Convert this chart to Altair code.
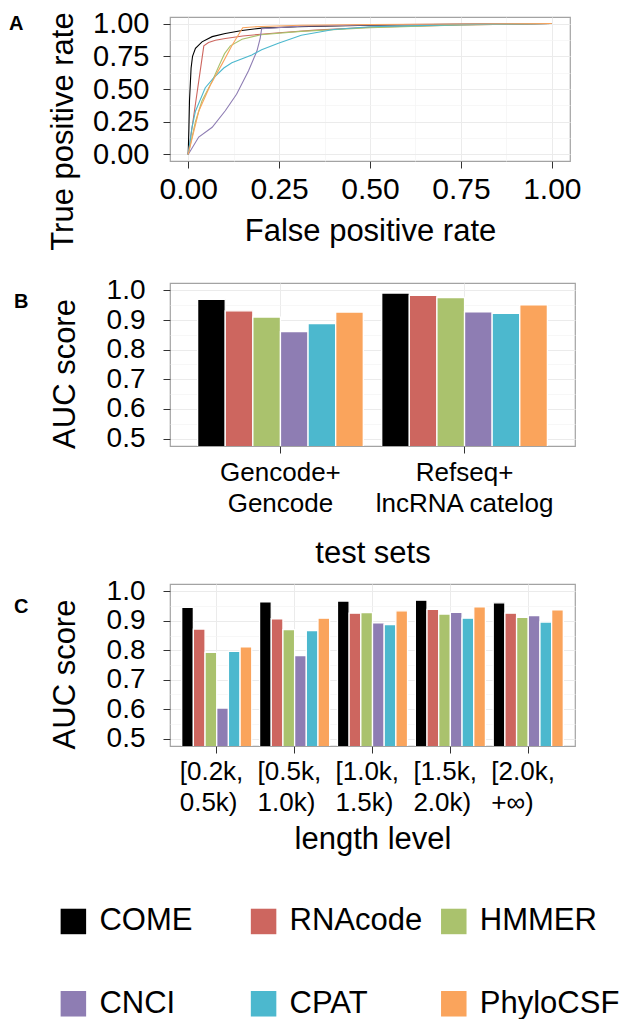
import altair as alt
import pandas as pd

# ---------------- data ----------------
methods = ["COME", "RNAcode", "HMMER", "CNCI", "CPAT", "PhyloCSF"]
colors = ["#000000", "#CD665F", "#AAC26D", "#8E7DB3", "#4CB8CE", "#FAA45C"]
panel_labels = ["A", "B", "C"]

# ROC curves (panel A)
come_fpr = [0, 0.002, 0.0036, 0.008, 0.012, 0.02, 0.038, 0.066, 0.102, 0.148, 0.202, 0.3, 0.5, 0.75, 1.0]
come_tpr = [0, 0.2, 0.41, 0.66, 0.75, 0.81, 0.86, 0.9, 0.924, 0.947, 0.965, 0.976, 0.988, 0.995, 1.0]
rnacode_fpr = [0, 0.043, 0.056, 0.075, 0.102, 0.15, 0.2, 0.25, 0.35, 0.5, 0.75, 1.0]
rnacode_tpr = [0, 0.83, 0.855, 0.872, 0.886, 0.905, 0.918, 0.93, 0.95, 0.972, 0.99, 1.0]
hmmer_fpr = [0, 0.02, 0.038, 0.066, 0.085, 0.1, 0.116, 0.148, 0.2, 0.31, 0.5, 0.75, 1.0]
hmmer_tpr = [0, 0.25, 0.41, 0.56, 0.68, 0.77, 0.83, 0.88, 0.915, 0.94, 0.968, 0.99, 1.0]
cnci_fpr = [0, 0.029, 0.066, 0.102, 0.133, 0.166, 0.189, 0.198, 0.202, 0.31, 0.5, 0.75, 1.0]
cnci_tpr = [0, 0.133, 0.208, 0.334, 0.46, 0.64, 0.79, 0.886, 0.96, 0.98, 0.99, 0.996, 1.0]
cpat_fpr = [0, 0.01, 0.02, 0.047, 0.07, 0.098, 0.12, 0.175, 0.202, 0.248, 0.311, 0.4, 0.5, 0.75, 1.0]
cpat_tpr = [0, 0.2, 0.33, 0.51, 0.585, 0.66, 0.70, 0.76, 0.80, 0.85, 0.91, 0.955, 0.975, 0.992, 1.0]
phylocsf_fpr = [0, 0.029, 0.061, 0.093, 0.12, 0.15, 0.2, 0.31, 0.5, 0.75, 1.0]
phylocsf_tpr = [0, 0.33, 0.53, 0.69, 0.83, 0.968, 0.978, 0.987, 0.993, 0.997, 1.0]

# AUC by test set (panel B)
test_sets = ["Gencode+\nGencode", "Refseq+\nlncRNA catelog"]
auc_gencode = [0.970, 0.931, 0.910, 0.861, 0.888, 0.927]
auc_refseq = [0.991, 0.983, 0.976, 0.928, 0.923, 0.951]

# AUC by length level (panel C)
length_levels = ["[0.2k,\n0.5k)", "[0.5k,\n1.0k)", "[1.0k,\n1.5k)", "[1.5k,\n2.0k)", "[2.0k,\n+\u221e)"]
auc_len_1 = [0.946, 0.872, 0.793, 0.604, 0.796, 0.812]
auc_len_2 = [0.964, 0.907, 0.870, 0.782, 0.867, 0.909]
auc_len_3 = [0.967, 0.926, 0.928, 0.893, 0.887, 0.934]
auc_len_4 = [0.970, 0.939, 0.923, 0.929, 0.909, 0.947]
auc_len_5 = [0.961, 0.926, 0.912, 0.918, 0.896, 0.937]

major_a = [0, 0.25, 0.5, 0.75, 1.0]
minor_a = [0.125, 0.375, 0.625, 0.875]
major_bc = [0.5, 0.6, 0.7, 0.8, 0.9, 1.0]
minor_bc = [0.55, 0.65, 0.75, 0.85, 0.95]

# ---------------- tables ----------------
roc_rows = []
for m, fx, ty in zip(methods,
                     [come_fpr, rnacode_fpr, hmmer_fpr, cnci_fpr, cpat_fpr, phylocsf_fpr],
                     [come_tpr, rnacode_tpr, hmmer_tpr, cnci_tpr, cpat_tpr, phylocsf_tpr]):
    for i, (a, b) in enumerate(zip(fx, ty)):
        roc_rows.append({"method": m, "fpr": a, "tpr": b, "step": i})
roc_df = pd.DataFrame(roc_rows)

b_rows = []
for s, vals in zip(test_sets, [auc_gencode, auc_refseq]):
    for m, v in zip(methods, vals):
        b_rows.append({"set": s, "method": m, "auc": v})
b_df = pd.DataFrame(b_rows)

c_rows = []
for s, vals in zip(length_levels, [auc_len_1, auc_len_2, auc_len_3, auc_len_4, auc_len_5]):
    for m, v in zip(methods, vals):
        c_rows.append({"level": s, "method": m, "auc": v})
c_df = pd.DataFrame(c_rows)

legend_df = pd.DataFrame({"method": methods})

FONT = "Liberation Sans"
GRID = "#EBEBEB"
MINOR = "#F4F4F4"

color_scale = alt.Scale(domain=methods, range=colors)

# ---------------- panel A ----------------
xa = alt.Scale(domain=[-0.05, 1.05], nice=False, zero=False)
ya = alt.Scale(domain=[-0.05, 1.05], nice=False, zero=False)

minor_layer_a = alt.Chart(roc_df).mark_point(opacity=0).encode(
    x=alt.X("fpr:Q", scale=xa, axis=alt.Axis(orient="top", values=minor_a, grid=True, gridColor=MINOR,
                                            gridWidth=0.7, labels=False, ticks=False, domain=False,
                                            title=None, minExtent=0, maxExtent=0)),
    y=alt.Y("tpr:Q", scale=ya, axis=alt.Axis(orient="right", values=minor_a, grid=True, gridColor=MINOR,
                                            gridWidth=0.7, labels=False, ticks=False, domain=False,
                                            title=None, minExtent=0, maxExtent=0)),
)
lines_a = alt.Chart(roc_df).mark_line(strokeWidth=1.1).encode(
    x=alt.X("fpr:Q", scale=xa, axis=alt.Axis(values=major_a, format=".2f", title="False positive rate",
                                            labelFontSize=30, titleFontSize=31, tickSize=7,
                                            labelPadding=6, titlePadding=12, grid=True,
                                            labelOverlap=False)),
    y=alt.Y("tpr:Q", scale=ya, axis=alt.Axis(values=major_a, format=".2f", title="True positive rate",
                                            labelFontSize=29, titleFontSize=31, tickSize=7,
                                            labelPadding=14, titlePadding=13, grid=True,
                                            titleY=114, labelOverlap=False)),
    stroke=alt.Stroke("method:N", scale=alt.Scale(domain=methods, range=colors), legend=None),
    order=alt.Order("step:Q"),
)
letter_a = alt.Chart(pd.DataFrame({"label": [panel_labels[0]]})).mark_text(
    align="left", baseline="top", fontSize=20, fontWeight="bold", font=FONT, color="#000"
).encode(x=alt.value(-161), y=alt.value(-3), text="label:N")

panel_a = alt.layer(minor_layer_a, lines_a, letter_a).resolve_axis(
    x="independent", y="independent").properties(width=400, height=144)

# ---------------- panels B and C ----------------
yb = alt.Scale(domain=[0.475, 1.025], nice=False, zero=False)


def bar_panel(df, field, label_idx, width, height, x_axis, letter_y):
    minor = alt.Chart(df).mark_rule(opacity=0).encode(
        y=alt.Y("auc:Q", scale=yb, axis=alt.Axis(orient="right", values=minor_bc, grid=True,
                                                gridColor=MINOR, gridWidth=0.7, labels=False,
                                                ticks=False, domain=False, title=None,
                                                minExtent=0, maxExtent=0)),
    )
    bars = alt.Chart(df).mark_bar(clip=True, stroke="white", strokeWidth=1.3).encode(
        x=alt.X(f"{field}:N", sort=None,
                scale=alt.Scale(paddingInner=0.1, paddingOuter=0.15), axis=x_axis),
        xOffset=alt.XOffset("method:N", sort=methods,
                            scale=alt.Scale(paddingInner=0, paddingOuter=0)),
        y=alt.Y("auc:Q", scale=yb, axis=alt.Axis(values=major_bc, format=".1f", title="AUC score",
                                                labelFontSize=28, titleFontSize=31, tickSize=7,
                                                labelPadding=18, titlePadding=25, grid=True,
                                                titleY=height / 2 + 9, labelOverlap=False)),
        color=alt.Color("method:N", scale=color_scale, legend=None, sort=methods),
    )
    letter = alt.Chart(pd.DataFrame({"label": [panel_labels[label_idx]]})).mark_text(
        align="left", baseline="top", fontSize=20, fontWeight="bold", font=FONT, color="#000"
    ).encode(x=alt.value(-156), y=alt.value(letter_y), text="label:N")
    return alt.layer(minor, bars, letter).resolve_axis(y="independent").properties(
        width=width, height=height)


axis_b = alt.Axis(title="test sets", labelAngle=0, labelFontSize=26, labelLineHeight=31,
                  labelExpr="split(datum.label, '\\n')", tickSize=7, labelPadding=6,
                  titleFontSize=31, titlePadding=22, grid=True, bandPosition=0.5)
axis_c = alt.Axis(title="length level", labelAngle=0, labelFontSize=26, labelLineHeight=31,
                  labelExpr="split(datum.label, '\\n')", labelAlign="left", labelOffset=-37,
                  tickSize=7, labelPadding=5, titleFontSize=31, titlePadding=9, grid=True,
                  bandPosition=0.5)

panel_b = bar_panel(b_df, "set", 1, 405, 163, axis_b, 9)
panel_c = bar_panel(c_df, "level", 2, 405, 162, axis_c, 13)

# ---------------- legend panel (built from the method list) ----------------
leg_base = alt.Chart(legend_df).transform_window(
    idx="row_number()"
).transform_calculate(
    col="(datum.idx - 1) % 3", row="floor((datum.idx - 1) / 3)"
)
leg_x = alt.X("col:Q", scale=alt.Scale(domain=[0.508, 2.611], nice=False, zero=False), axis=None)
leg_y = alt.Y("row:Q", scale=alt.Scale(domain=[-0.516, 1.185], nice=False, zero=False, reverse=True),
              axis=None)
leg_squares = leg_base.mark_square(size=650, opacity=1, strokeWidth=0).encode(
    x=leg_x, y=leg_y,
    color=alt.Color("method:N", scale=color_scale, legend=None),
)
leg_text = leg_base.mark_text(align="left", baseline="middle", dx=26, fontSize=31, font=FONT,
                              color="#000").encode(x=leg_x, y=leg_y, text="method:N")
legend_panel = alt.layer(leg_squares, leg_text).properties(
    width=400, height=140, view=alt.ViewBackground(stroke="transparent", strokeWidth=0))

lower = alt.vconcat(panel_b, panel_c, spacing=7).resolve_scale(
    color="shared", x="independent", xOffset="independent")

chart = alt.vconcat(panel_a, lower, legend_panel, spacing=24).resolve_scale(
    color="shared").properties(padding=0).configure(font=FONT).configure_view(
    stroke="#A3A3A3", strokeWidth=1.2).configure_axis(
    labelFont=FONT, titleFont=FONT, labelColor="#000", titleColor="#000", titleFontWeight="normal",
    tickColor="#333", tickWidth=1, domain=False, gridColor=GRID, gridWidth=1)

chart.save("out.html", embed_options={"renderer": "svg", "actions": False})
